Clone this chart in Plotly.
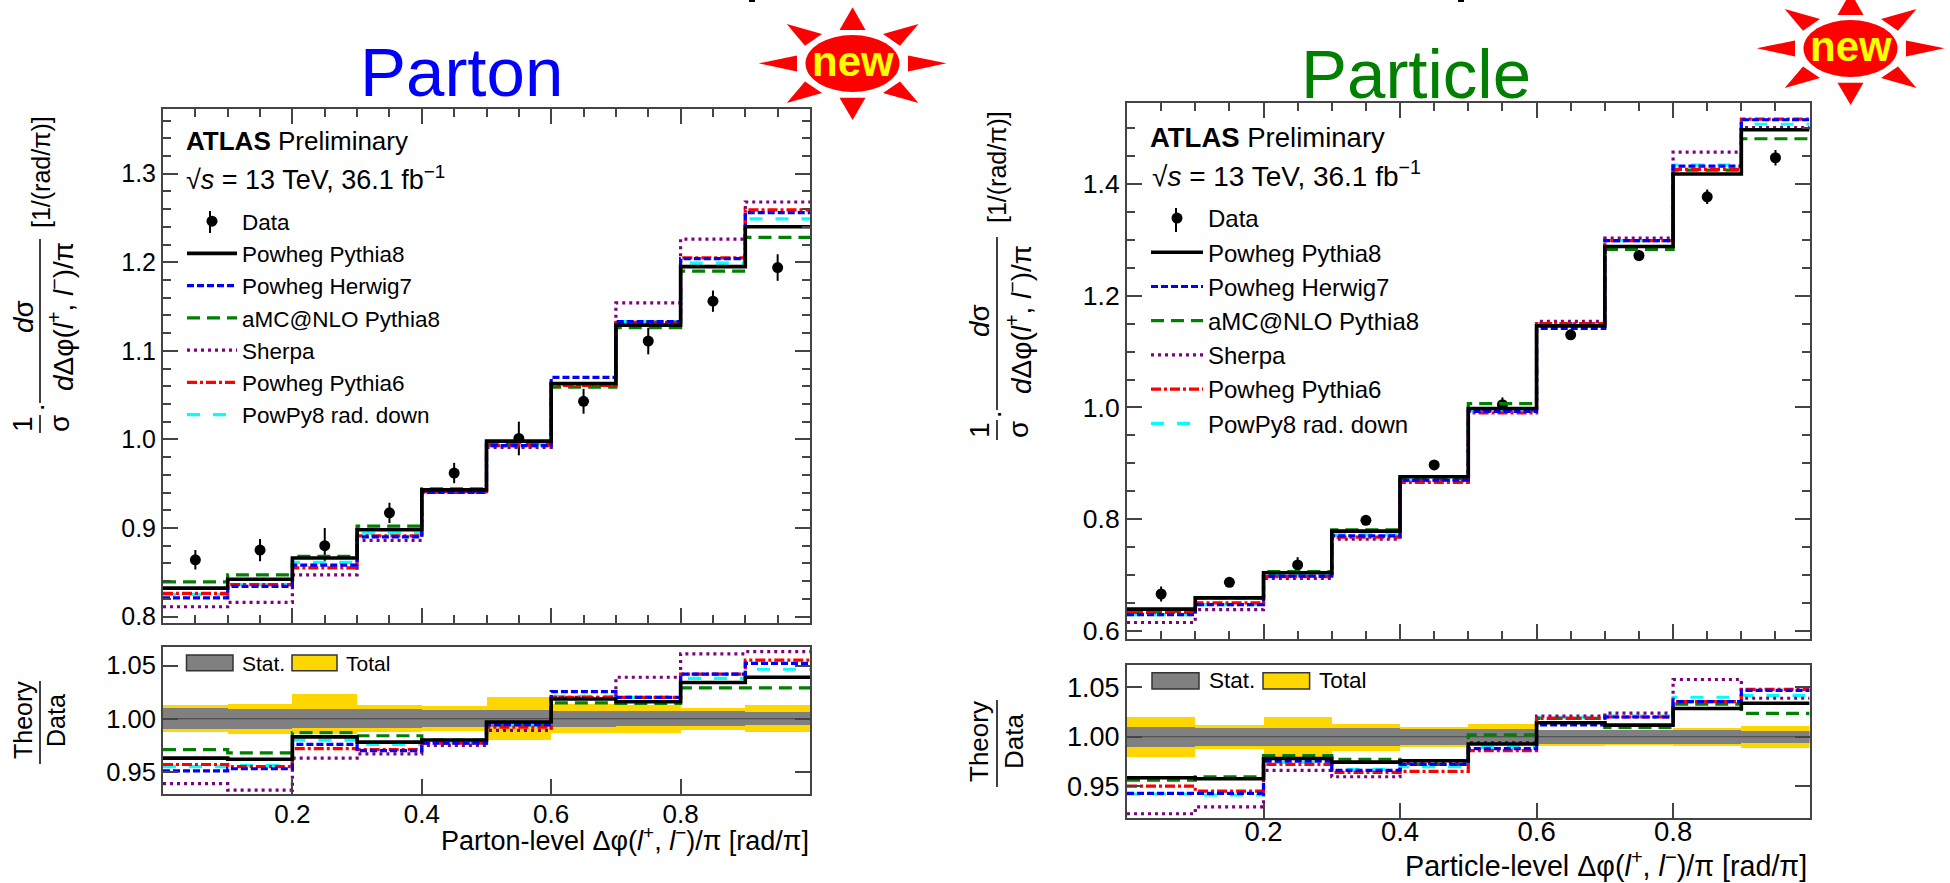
import plotly.graph_objects as go

W, H = 1950, 883
edges = [0.0, 0.1, 0.2, 0.3, 0.4, 0.5, 0.6, 0.7, 0.8, 0.9, 1.0]
centers = [0.05, 0.15, 0.25, 0.35, 0.45, 0.55, 0.65, 0.75, 0.85, 0.95]
major_x = [0.2, 0.4, 0.6, 0.8]

# ---------- Parton ----------
parton_data = [0.864, 0.875, 0.880, 0.917, 0.962, 1.001, 1.043, 1.111, 1.156, 1.194]
parton_err = [0.011, 0.0125, 0.020, 0.0115, 0.0115, 0.019, 0.014, 0.015, 0.012, 0.015]
parton_py8 = [0.832, 0.842, 0.866, 0.898, 0.943, 0.998, 1.063, 1.129, 1.195, 1.240]
parton_h7 = [0.821, 0.834, 0.858, 0.890, 0.940, 0.993, 1.070, 1.133, 1.204, 1.256]
parton_amc = [0.839, 0.847, 0.868, 0.902, 0.944, 0.994, 1.059, 1.126, 1.190, 1.228]
parton_sherpa = [0.811, 0.816, 0.847, 0.886, 0.940, 0.991, 1.062, 1.154, 1.226, 1.268]
parton_py6 = [0.826, 0.836, 0.855, 0.891, 0.941, 0.993, 1.061, 1.132, 1.205, 1.259]
parton_rad = [0.825, 0.836, 0.861, 0.894, 0.942, 0.995, 1.062, 1.133, 1.199, 1.249]

parton_r_py8 = [0.963, 0.962, 0.983, 0.978, 0.980, 0.997, 1.0185, 1.016, 1.034, 1.039]
parton_r_h7 = [0.951, 0.953, 0.976, 0.970, 0.977, 0.9945, 1.0255, 1.020, 1.042, 1.052]
parton_r_amc = [0.971, 0.968, 0.987, 0.984, 0.980, 0.9945, 1.015, 1.0145, 1.029, 1.029]
parton_r_sherpa = [0.939, 0.933, 0.963, 0.967, 0.975, 0.989, 1.020, 1.039, 1.061, 1.063]
parton_r_py6 = [0.957, 0.955, 0.972, 0.971, 0.977, 0.992, 1.020, 1.020, 1.042, 1.055]
parton_r_rad = [0.955, 0.956, 0.980, 0.976, 0.978, 0.994, 1.021, 1.020, 1.038, 1.0465]
parton_stat_up = [1.0097, 1.0094, 1.0091, 1.0088, 1.0085, 1.0082, 1.0075, 1.0072, 1.0069, 1.0063]
parton_stat_dn = [0.9900, 0.9906, 0.9909, 0.9912, 0.9918, 0.9921, 0.9925, 0.9928, 0.9934, 0.9937]
parton_tot_up = [1.0129, 1.0138, 1.0233, 1.0126, 1.0120, 1.0204, 1.0141, 1.0126, 1.0104, 1.0126]
parton_tot_dn = [0.9874, 0.9859, 0.9859, 0.9874, 0.9884, 0.9796, 0.9868, 0.9865, 0.9890, 0.9874]

# ---------- Particle ----------
particle_data = [0.666, 0.687, 0.718, 0.798, 0.897, 1.005, 1.130, 1.272, 1.377, 1.447]
particle_err = [0.0134, 0.007, 0.014, 0.007, 0.007, 0.013, 0.009, 0.010, 0.013, 0.014]
particle_py8 = [0.639, 0.659, 0.704, 0.7785, 0.876, 0.998, 1.146, 1.288, 1.418, 1.497]
particle_h7 = [0.629, 0.647, 0.698, 0.770, 0.870, 0.993, 1.1415, 1.2985, 1.432, 1.515]
particle_amc = [0.635, 0.659, 0.706, 0.781, 0.873, 1.007, 1.150, 1.283, 1.425, 1.481]
particle_sherpa = [0.615, 0.638, 0.694, 0.764, 0.869, 0.995, 1.154, 1.303, 1.457, 1.501]
particle_py6 = [0.633, 0.650, 0.697, 0.768, 0.866, 0.990, 1.150, 1.2985, 1.426, 1.516]
particle_rad = [0.629, 0.647, 0.700, 0.772, 0.870, 0.994, 1.149, 1.2985, 1.434, 1.507]

particle_r_py8 = [0.9584, 0.9574, 0.978, 0.9743, 0.9757, 0.9926, 1.0142, 1.0118, 1.0287, 1.034]
particle_r_h7 = [0.9426, 0.9426, 0.9753, 0.966, 0.972, 0.988, 1.012, 1.020, 1.0355, 1.047]
particle_r_amc = [0.956, 0.9595, 0.981, 0.977, 0.972, 1.002, 1.0186, 1.0095, 1.033, 1.0236]
particle_r_sherpa = [0.922, 0.929, 0.966, 0.9595, 0.973, 0.994, 1.021, 1.024, 1.058, 1.039]
particle_r_py6 = [0.950, 0.945, 0.972, 0.964, 0.965, 0.986, 1.0186, 1.020, 1.0355, 1.048]
particle_r_rad = [0.942, 0.941, 0.974, 0.967, 0.9696, 0.989, 1.0196, 1.021, 1.040, 1.042]
particle_stat_up = [1.0101, 1.0094, 1.0091, 1.0088, 1.0085, 1.0085, 1.0075, 1.0072, 1.0069, 1.0060]
particle_stat_dn = [0.9899, 0.9906, 0.9909, 0.9912, 0.9915, 0.9915, 0.9925, 0.9928, 0.9931, 0.9940]
particle_tot_up = [1.0203, 1.0122, 1.0206, 1.0132, 1.0101, 1.0135, 1.0074, 1.0074, 1.0095, 1.0108]
particle_tot_dn = [0.9797, 0.9875, 0.9797, 0.9861, 0.9895, 0.9916, 0.9912, 0.9919, 0.9905, 0.9892]

series_names = ["Powheg Pythia8", "Powheg Herwig7", "aMC@NLO Pythia8", "Sherpa", "Powheg Pythia6", "PowPy8 rad. down"]
series_colors = ["#000000", "#0000ff", "#008000", "#800080", "#ff0000", "#00ffff"]
series_dash = ["solid", "7px,3px", "13px,7px", "3px,4px", "10px,3px,3px,3px", "13px,13px"]
series_width = [3.6, 3.2, 3.2, 3.2, 3.2, 3.2]
draw_order = [5, 2, 3, 4, 1, 0]

FONT = "Liberation Sans"
AXC = "#444444"


def X(px):
    return px / W


def Y(py):
    return 1 - py / H


def step(values):
    return values + [values[-1]]


fig = go.Figure()


def main_panel(xa, ya, data, err, models, legend):
    fig.add_trace(go.Scatter(
        x=centers, y=data, name="Data", mode="markers", legend=legend, legendgroup=legend + "d",
        legendrank=1, xaxis=xa, yaxis=ya,
        marker=dict(color="black", size=11),
        error_y=dict(type="data", array=err, color="black", thickness=2, width=0)))
    for i in draw_order:
        fig.add_trace(go.Scatter(
            x=edges, y=step(models[i]), name=series_names[i], mode="lines", legend=legend,
            legendgroup=legend + str(i), legendrank=i + 2, xaxis=xa, yaxis=ya,
            line=dict(shape="hv", color=series_colors[i], dash=series_dash[i], width=series_width[i])))


def ratio_panel(xa, ya, models, s_up, s_dn, t_up, t_dn):
    for up, dn, col in [(t_up, t_dn, "#ffd700"), (s_up, s_dn, "#808080")]:
        fig.add_trace(go.Bar(
            x=centers, y=[u - d for u, d in zip(up, dn)], base=dn, width=0.1,
            marker=dict(color=col, line=dict(width=0)), showlegend=False, xaxis=xa, yaxis=ya))
    fig.add_trace(go.Scatter(x=edges, y=[1.0] * len(edges), mode="lines", showlegend=False,
                             line=dict(color="#444444", width=1.2), xaxis=xa, yaxis=ya))
    for i in draw_order:
        fig.add_trace(go.Scatter(
            x=edges, y=step(models[i]), mode="lines", showlegend=False, xaxis=xa, yaxis=ya,
            line=dict(shape="hv", color=series_colors[i], dash=series_dash[i], width=series_width[i])))


main_panel("x", "y", parton_data, parton_err,
           [parton_py8, parton_h7, parton_amc, parton_sherpa, parton_py6, parton_rad], "legend")
ratio_panel("x2", "y2", [parton_r_py8, parton_r_h7, parton_r_amc, parton_r_sherpa, parton_r_py6, parton_r_rad],
            parton_stat_up, parton_stat_dn, parton_tot_up, parton_tot_dn)
main_panel("x3", "y3", particle_data, particle_err,
           [particle_py8, particle_h7, particle_amc, particle_sherpa, particle_py6, particle_rad], "legend2")
ratio_panel("x4", "y4", [particle_r_py8, particle_r_h7, particle_r_amc, particle_r_sherpa, particle_r_py6, particle_r_rad],
            particle_stat_up, particle_stat_dn, particle_tot_up, particle_tot_dn)


def xaxis(left, right, anchor, labels, size, minor, standoff=0):
    d = dict(domain=[X(left), X(right)], range=[0, 1], anchor=anchor, showgrid=False, zeroline=False,
             showline=True, linecolor=AXC, linewidth=2, mirror="ticks" if minor else True,
             ticks="inside", ticklen=15, tickwidth=1.5, tickcolor=AXC,
             tickvals=major_x, ticktext=[f"{v:.1f}" for v in major_x],
             showticklabels=labels, tickfont=dict(family=FONT, size=size, color="black"), ticklabelstandoff=standoff)
    if minor:
        d["minor"] = dict(dtick=0.05, ticks="inside", ticklen=8, tickwidth=1.5, tickcolor=AXC, showgrid=False)
    return d


def yaxis(top, bottom, rng, anchor, vals, fmt, size, minor_step=None):
    d = dict(domain=[Y(bottom), Y(top)], range=rng, anchor=anchor, showgrid=False, zeroline=False,
             showline=True, linecolor=AXC, linewidth=2, mirror="ticks",
             ticks="inside", ticklen=15, tickwidth=1.5, tickcolor=AXC,
             tickvals=vals, ticktext=[fmt.format(v) for v in vals],
             tickfont=dict(family=FONT, size=size, color="black"))
    if minor_step:
        d["minor"] = dict(dtick=minor_step, tick0=0, ticks="inside", ticklen=8, tickwidth=1.5, tickcolor=AXC, showgrid=False)
    return d


shapes = []
ann = []


def text(x, y, s, size, color="black", anchor="left", angle=0, font=FONT):
    ann.append(dict(x=X(x), y=Y(y), xref="paper", yref="paper", text=s, showarrow=False, xanchor=anchor,
                    yanchor="middle", textangle=angle, font=dict(family=font, size=size, color=color)))


def line(x0, y0, x1, y1, color="black", width=1.5):
    shapes.append(dict(type="line", xref="paper", yref="paper", x0=X(x0), y0=Y(y0), x1=X(x1), y1=Y(y1),
                       line=dict(color=color, width=width)))


def rect(x0, y0, x1, y1, fill, border="#333333"):
    shapes.append(dict(type="rect", xref="paper", yref="paper", x0=X(x0), y0=Y(y0), x1=X(x1), y1=Y(y1),
                       fillcolor=fill, line=dict(color=border, width=1.5)))


def badge(dx, dy):
    shapes.append(dict(type="circle", xref="paper", yref="paper", fillcolor="#ff0000", line=dict(width=0),
                       x0=X(805.5 + dx), x1=X(899.5 + dx), y0=Y(35 + dy), y1=Y(92 + dy)))
    rays = [[(852.6, 7.3), (839.5, 30), (865.5, 30)], [(852.6, 120), (839.5, 97.7), (865.5, 97.7)],
            [(758.7, 63.3), (797, 55.5), (797, 71.5)], [(946.5, 63.3), (908, 55.5), (908, 71.5)],
            [(786.7, 24), (822, 34), (805, 45.7)], [(918.5, 24), (883, 34), (900, 45.7)],
            [(786.7, 103), (822, 93), (805, 81.5)], [(918.5, 103), (883, 93), (900, 81.5)]]
    for tri in rays:
        p = "M" + " L".join(f"{X(a + dx):.5f},{Y(b + dy):.5f}" for a, b in tri) + " Z"
        shapes.append(dict(type="path", xref="paper", yref="paper", path=p, fillcolor="#ff0000", line=dict(width=0)))
    text(852.6 + dx, 61 + dy, "<b>new</b>", 42, "#ffff00", "center")


# titles
text(461, 72, "Parton", 69, "#0000ff", "center")
text(1416, 75, "Particle", 69, "#008000", "center")
badge(0, 0)
badge(998, -15)

# ATLAS labels
text(183.5, 141, "<b>ATLAS</b> Preliminary", 26)
text(183.5, 178, "√<i>s</i> = 13 TeV, 36.1 fb<sup>−1</sup>", 27)
text(1148, 137, "<b>ATLAS</b> Preliminary", 27.5)
text(1150, 174, "√<i>s</i> = 13 TeV, 36.1 fb<sup>−1</sup>", 28)

# Stat / Total keys
rect(186.5, 655, 233, 670.7, "#808080")
rect(292, 655, 337, 670.7, "#ffd700")
text(239.5, 663, "Stat.", 21)
text(344, 663, "Total", 21)
rect(1152, 672.7, 1199, 689, "#808080")
rect(1263, 672.7, 1309.6, 689, "#ffd700")
text(1207, 680, "Stat.", 22.5)
text(1317, 680, "Total", 22.5)

# vertical error stroke of the "Data" legend key
line(210, 211, 210, 233, width=2)
line(1176, 208, 1176, 232, width=2)

# y titles built from rotated pieces
DEN = "<i>d</i>Δφ(<i>l</i><sup>+</sup>, <i>l</i><sup>−</sup>)/π"
for xb, xn, xd, xr, yc, yu, yl0, yl1, yo0, yo1, fs in [
        (40, 23, 61, 41, 317, 172, 239, 403, 415, 433, 28),
        (997, 979, 1019, 997, 320, 167, 237, 410, 420, 440, 28)]:
    text(xn, yc, "<i>d</i>σ", fs, anchor="center", angle=-90)
    text(xd, yc, DEN, fs, anchor="center", angle=-90)
    text(xr, yu, "[1/(rad/π)]", 25, anchor="center", angle=-90)
    line(xb, yl0, xb, yl1)
    line(xb, yo0, xb, yo1)
    text(xn, (yo0 + yo1) / 2, "1", fs, anchor="center", angle=-90)
    text(xd - 1, (yo0 + yo1) / 2, "σ", fs, anchor="center", angle=-90)
    text(xb, yl1 + 5, "·", fs, anchor="center", angle=-90)

for xb, xn, xd, yt, yd, y0, y1, fs in [(40, 23, 56, 720, 721, 681, 764, 25), (997, 979, 1014, 741, 742, 700, 787, 26)]:
    text(xn, yt, "Theory", fs, anchor="center", angle=-90)
    text(xd, yd, "Data", fs, anchor="center", angle=-90)
    line(xb, y0, xb, y1)

# x titles
XT = "Δφ(<i>l</i><sup>+</sup>, <i>l</i><sup>−</sup>)/π [rad/π]"
text(811, 839, "Parton-level " + XT, 27, anchor="right")
text(1809, 864, "Particle-level " + XT, 28.7, anchor="right")

# cropped text fragments at the very top edge of the slide
line(749, 1, 755, 1, width=2)
line(1458, 1, 1464, 1, width=2)

fig.update_layout(
    width=W, height=H, autosize=False, margin=dict(l=0, r=0, t=0, b=0, autoexpand=False),
    paper_bgcolor="white", plot_bgcolor="white", barmode="overlay", bargap=0,
    font=dict(family=FONT, color="black"), showlegend=True,
    xaxis=xaxis(163, 810, "y", False, 25, True),
    yaxis=yaxis(109, 622.7, [0.793, 1.373], "x", [0.8, 0.9, 1.0, 1.1, 1.2, 1.3], "{:.1f}", 25, 0.02),
    xaxis2=xaxis(163, 810, "y2", True, 26, False, -4),
    yaxis2=yaxis(647, 794, [0.9293, 1.0674], "x2", [0.95, 1.0, 1.05], "{:.2f}", 25.5),
    xaxis3=xaxis(1127, 1809.6, "y3", False, 26, True),
    yaxis3=yaxis(103, 638.7, [0.586, 1.545], "x3", [0.6, 0.8, 1.0, 1.2, 1.4], "{:.1f}", 26.5, 0.05),
    xaxis4=xaxis(1127, 1809.6, "y4", True, 27.5, False, -12),
    yaxis4=yaxis(664.7, 817.7, [0.918, 1.073], "x4", [0.95, 1.0, 1.05], "{:.2f}", 27),
    legend=dict(x=X(182), y=Y(200), xanchor="left", yanchor="top", bgcolor="rgba(0,0,0,0)", borderwidth=0,
                itemwidth=50, tracegroupgap=0, font=dict(family=FONT, size=22.5), traceorder="grouped"),
    legend2=dict(x=X(1146), y=Y(196), xanchor="left", yanchor="top", bgcolor="rgba(0,0,0,0)", borderwidth=0,
                 itemwidth=52, tracegroupgap=0, font=dict(family=FONT, size=24), traceorder="grouped"),
    shapes=shapes, annotations=ann,
)

fig.write_html("out.html", post_script="document.body.style.margin='0';", config=dict(displayModeBar=False))
